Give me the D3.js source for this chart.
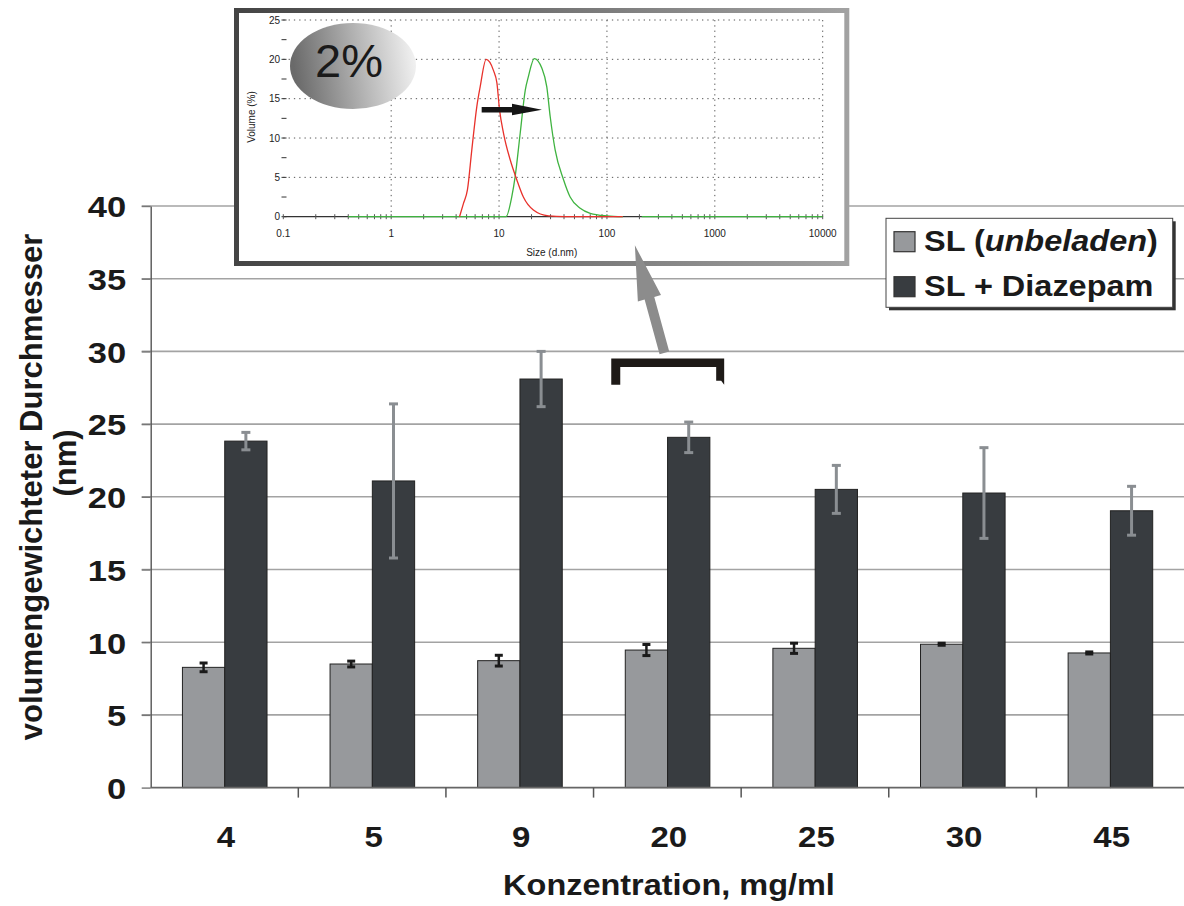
<!DOCTYPE html>
<html><head><meta charset="utf-8">
<script src="https://cdn.jsdelivr.net/npm/d3@7"></script>
<style>body{margin:0;background:#fff}svg{display:block}text{font-family:"Liberation Sans",Arial,sans-serif}</style>
</head><body><svg id="c" width="1184" height="906"></svg>
<script>
// ---------- main chart data ----------
const categories = ["4","5","9","20","25","30","45"];
const seriesNames = ["SL (unbeladen)", "SL + Diazepam"];
const unloaded    = [8.27, 8.50, 8.73, 9.46, 9.58, 9.86, 9.26];
const unloadedErr = [0.30, 0.20, 0.37, 0.38, 0.35, 0.07, 0.07];
const diazepam    = [23.83, 21.09, 28.10, 24.09, 20.51, 20.26, 19.04];
const diazepamErr = [0.60, 5.30, 1.90, 1.05, 1.65, 3.12, 1.68];
const yTicks = [0, 5, 10, 15, 20, 25, 30, 35, 40];
const xTitle = "Konzentration, mg/ml";
const yTitle1 = "volumengewichteter Durchmesser";
const yTitle2 = "(nm)";
const highlightCat = "20";

// ---------- inset data (size distribution, 2%) ----------
const insetLabel = "2%";
const insetXTicks = [0.1, 1, 10, 100, 1000, 10000];
const insetYTicks = [0, 5, 10, 15, 20, 25];
const redSize  = [4.3, 4.68, 5.09, 5.59, 6.22, 6.68, 7.59, 8.87, 9.55, 10.1, 11.0, 12.7, 14.6, 16.8, 20.8, 28.7, 40, 140];
const redVol   = [0, 1.7, 3.4, 8.5, 14.0, 16.5, 20.0, 18.6, 17.0, 13.6, 10.6, 7.2, 4.7, 2.5, 0.85, 0.1, 0, 0];
const greenSize = [0.4, 11.6, 13.1, 14.1, 15.7, 17.5, 18.7, 21.2, 24.9, 27.7, 29.8, 33.1, 39.6, 45.6, 56.5, 70, 100, 141];
const greenVol  = [0, 0, 2.5, 5.1, 10.6, 16.1, 17.8, 20.1, 18.9, 16.5, 12.7, 8.5, 4.7, 2.5, 1.07, 0.43, 0.1, 0];
const greenTailSize = [210, 10000];
const greenTailVol  = [0, 0];
const shiftFrom = [6.9, 13.6], shiftTo = [25, 13.6];

const svg = d3.select("#c");
const defs = svg.append("defs");

// ---------- scales ----------
const x0 = d3.scaleBand().domain(categories).range([150.7, 1184]).padding(0);
const bw = x0.bandwidth();
const x1 = d3.scaleBand().domain(seriesNames).range([0.215 * bw, 0.788 * bw]).padding(0);
const y = d3.scaleLinear().domain([0, 40]).range([787.6, 206]);
const colors = {"SL (unbeladen)": "#97999c", "SL + Diazepam": "#383c40"};
const errColors = {"SL (unbeladen)": "#1a1a1a", "SL + Diazepam": "#8a8e92"};

// gridlines
svg.append("g").selectAll("line").data(yTicks.filter(d => d > 0)).join("line")
  .attr("x1", 141.7).attr("x2", 1184).attr("y1", d => y(d)).attr("y2", d => y(d))
  .attr("stroke", "#a3a3a3").attr("stroke-width", 1.6);

// y axis
const yAxis = svg.append("g").attr("transform", "translate(150.7,0)")
  .call(d3.axisLeft(y).tickValues(yTicks).tickSize(9).tickSizeOuter(0));
yAxis.select(".domain").attr("stroke", "#555").attr("stroke-width", 1.4);
yAxis.selectAll(".tick line").attr("stroke", "#777").attr("stroke-width", 1.4);
yAxis.selectAll(".tick text").attr("x", -24.5 / 1.15).attr("transform", "scale(1.15,1)")
  .attr("dy", "0.36em").style("font-size", "30px").style("font-weight", "bold").attr("fill", "#1a1a1a")
  .attr("font-family", null);

// bars
const rows = categories.map((c, i) => [
  {cat: c, s: seriesNames[0], v: unloaded[i], e: unloadedErr[i]},
  {cat: c, s: seriesNames[1], v: diazepam[i], e: diazepamErr[i]}
]).flat();
svg.append("g").selectAll("rect").data(rows).join("rect")
  .attr("x", d => x0(d.cat) + x1(d.s)).attr("width", x1.bandwidth())
  .attr("y", d => y(d.v)).attr("height", d => y(0) - y(d.v))
  .attr("fill", d => colors[d.s]).attr("stroke", "#222").attr("stroke-width", 1);

// x axis
svg.append("line").attr("x1", 150.7).attr("x2", 1184).attr("y1", y(0)).attr("y2", y(0))
  .attr("stroke", "#666").attr("stroke-width", 1.6);
const bounds = categories.slice(1).map(c => x0(c));
svg.append("g").selectAll("line").data(bounds).join("line")
  .attr("x1", d => d).attr("x2", d => d).attr("y1", y(0)).attr("y2", y(0) + 10)
  .attr("stroke", "#555").attr("stroke-width", 1.5);

// error bars
const eg = svg.append("g");
rows.forEach(d => {
  const cx = x0(d.cat) + x1(d.s) + x1.bandwidth() / 2;
  const col = errColors[d.s];
  const lw = d.s === seriesNames[1] ? 3 : 2.5;
  const cw = d.s === seriesNames[1] ? 4.5 : 4;
  eg.append("line").attr("x1", cx).attr("x2", cx).attr("y1", y(d.v + d.e)).attr("y2", y(d.v - d.e))
    .attr("stroke", col).attr("stroke-width", lw);
  [d.v + d.e, d.v - d.e].forEach(v => eg.append("line").attr("x1", cx - cw).attr("x2", cx + cw)
    .attr("y1", y(v)).attr("y2", y(v)).attr("stroke", col).attr("stroke-width", 3));
});

// category labels
svg.append("g").selectAll("g").data(categories).join("g")
  .attr("transform", d => `translate(${x0(d) + x0.bandwidth() * 0.51},847) scale(1.1,1)`)
  .append("text").attr("text-anchor", "middle").style("font-size", "30px").style("font-weight", "bold")
  .attr("fill", "#1a1a1a").text(d => d);

// axis titles
svg.append("g").attr("transform", "translate(669,895) scale(1.12,1)")
  .append("text").attr("text-anchor", "middle").style("font-size", "29px").style("font-weight", "bold")
  .attr("fill", "#1a1a1a").text(xTitle);
svg.append("text").attr("transform", "translate(42,487) rotate(-90)").attr("text-anchor", "middle")
  .style("font-size", "31px").style("font-weight", "bold").attr("fill", "#1a1a1a").text(yTitle1);
svg.append("text").attr("transform", "translate(76,463) rotate(-90)").attr("text-anchor", "middle")
  .style("font-size", "31px").style("font-weight", "bold").attr("fill", "#1a1a1a").text(yTitle2);

// legend
const lg = svg.append("g");
lg.append("rect").attr("x", 889).attr("y", 221.3).attr("width", 286.7).attr("height", 89).attr("fill", "#333");
lg.append("rect").attr("x", 886).attr("y", 218.3).attr("width", 286.7).attr("height", 89)
  .attr("fill", "#fff").attr("stroke", "#444").attr("stroke-width", 1);
seriesNames.forEach((s, i) => {
  const yy = 231.7 + i * 45;
  lg.append("rect").attr("x", 894).attr("y", yy).attr("width", 21).attr("height", 20)
    .attr("fill", colors[s]).attr("stroke", "#333").attr("stroke-width", 1.2);
  const t = lg.append("g").attr("transform", `translate(924,${yy + 19}) scale(1.12,1)`)
    .append("text").style("font-size", "29px").style("font-weight", "bold").attr("fill", "#1a1a1a");
  if (i === 0) {
    t.append("tspan").text("SL (");
    t.append("tspan").style("font-style", "italic").text("unbeladen");
    t.append("tspan").text(")");
  } else t.text(s);
});

// highlight bracket for category 20
const bx0 = x0(highlightCat) + bw * 0.12, bx1 = x0(highlightCat) + bw * 0.885;
const bt = y(29.52), bb = y(27.7);
svg.append("path").attr("fill", "#1e1a17")
  .attr("d", `M${bx0},${bt} L${bx1},${bt} L${bx1},${bb} L${bx1 - 3},${bb - 4} L${bx1 - 8},${bb - 4} L${bx1 - 8},${bt + 8.5} L${bx0 + 9},${bt + 8.5} L${bx0 + 9},${bb} L${bx0},${bb} Z`);

// ---------- inset ----------
const ig = svg.append("g");
const fg = defs.append("linearGradient").attr("id", "frameG").attr("gradientUnits", "userSpaceOnUse")
  .attr("x1", 234).attr("x2", 849).attr("y1", 0).attr("y2", 0);
fg.append("stop").attr("offset", "0%").attr("stop-color", "#444");
fg.append("stop").attr("offset", "100%").attr("stop-color", "#a2a2a2");
ig.append("rect").attr("x", 236.5).attr("y", 10.5).attr("width", 610.3).attr("height", 253)
  .attr("fill", "#fff").attr("stroke", "url(#frameG)").attr("stroke-width", 5);

const xi = d3.scaleLog().domain([0.1, 10000]).range([283.3, 822.7]);
const yi = d3.scaleLinear().domain([0, 25]).range([216.7, 20]);

// dotted grid
ig.append("g").selectAll("line").data(insetYTicks.filter(d => d > 0)).join("line")
  .attr("x1", xi(0.1)).attr("x2", xi(10000)).attr("y1", d => yi(d)).attr("y2", d => yi(d))
  .attr("stroke", "#555").attr("stroke-width", 1).attr("stroke-dasharray", "1.3,4");
ig.append("g").selectAll("line").data(insetXTicks.slice(1)).join("line")
  .attr("x1", d => xi(d)).attr("x2", d => xi(d)).attr("y1", yi(25)).attr("y2", yi(0))
  .attr("stroke", "#555").attr("stroke-width", 1).attr("stroke-dasharray", "1.3,4");

// ellipse label
const eg2 = defs.append("linearGradient").attr("id", "ellG").attr("x1", 0).attr("x2", 1).attr("y1", 0.2).attr("y2", 0.1);
eg2.append("stop").attr("offset", "0%").attr("stop-color", "#6a6a6a");
eg2.append("stop").attr("offset", "55%").attr("stop-color", "#b8b8b8");
eg2.append("stop").attr("offset", "100%").attr("stop-color", "#f6f6f6");
ig.append("ellipse").attr("cx", 353).attr("cy", 66).attr("rx", 63).attr("ry", 43).attr("fill", "url(#ellG)");
ig.append("text").attr("x", 349).attr("y", 77).attr("text-anchor", "middle")
  .style("font-size", "47px").attr("fill", "#1a1a1a").text(insetLabel);

// y minor ticks
ig.append("g").selectAll("line").data(d3.range(0, 25.01, 2.5)).join("line")
  .attr("x1", 281.5).attr("x2", 286.5).attr("y1", d => yi(d)).attr("y2", d => yi(d))
  .attr("stroke", "#333").attr("stroke-width", 1);
// x axis line + ticks
ig.append("line").attr("x1", xi(0.1)).attr("x2", xi(10000)).attr("y1", yi(0)).attr("y2", yi(0))
  .attr("stroke", "#333").attr("stroke-width", 1.2);
const minor = [];
[0.1, 1, 10, 100, 1000].forEach(b => { for (let k = 2; k <= 9; k++) minor.push(b * k); });
ig.append("g").selectAll("line").data(minor.concat(insetXTicks)).join("line")
  .attr("x1", d => xi(d)).attr("x2", d => xi(d)).attr("y1", yi(0) - 2.5).attr("y2", yi(0) + 2.5)
  .attr("stroke", "#555").attr("stroke-width", 1);

// tick labels
ig.append("g").selectAll("text").data(insetYTicks).join("text")
  .attr("x", 280).attr("y", d => yi(d)).attr("dy", "0.35em").attr("text-anchor", "end")
  .style("font-size", "10px").attr("fill", "#222").text(d => d);
ig.append("g").selectAll("text").data(insetXTicks).join("text")
  .attr("x", d => xi(d)).attr("y", 237).attr("text-anchor", "middle")
  .style("font-size", "10px").attr("fill", "#222").text(d => d);
ig.append("text").attr("x", 551.7).attr("y", 256).attr("text-anchor", "middle")
  .style("font-size", "10px").attr("fill", "#222").text("Size (d.nm)");
ig.append("text").attr("transform", "translate(255,117) rotate(-90)").attr("text-anchor", "middle")
  .style("font-size", "10px").attr("fill", "#222").text("Volume (%)");

// curves
const line = d3.line().x(d => xi(d[0])).y(d => yi(d[1])).curve(d3.curveMonotoneX);
ig.append("path").datum(greenTailSize.map((s, i) => [s, greenTailVol[i]])).attr("d", line)
  .attr("fill", "none").attr("stroke", "#3fb340").attr("stroke-width", 1.3);
ig.append("path").datum(greenSize.map((s, i) => [s, greenVol[i]])).attr("d", line)
  .attr("fill", "none").attr("stroke", "#3fb340").attr("stroke-width", 1.3);
ig.append("path").datum(redSize.map((s, i) => [s, redVol[i]])).attr("d", line)
  .attr("fill", "none").attr("stroke", "#e8312b").attr("stroke-width", 1.3);

// shift arrow in inset
const ax0 = xi(shiftFrom[0]), ax1 = xi(shiftTo[0]), ay = yi(shiftFrom[1]);
ig.append("path").attr("fill", "#151515")
  .attr("d", `M${ax0},${ay - 2.8} L${ax1 - 30},${ay - 2.8} L${ax1 - 30},${ay - 6} L${ax1},${ay} L${ax1 - 30},${ay + 5.5} L${ax1 - 30},${ay + 2.8} L${ax0},${ay + 2.8} Z`);

// gray arrow from bracket to inset
const tail = [x0(highlightCat) + bw * 0.48, y(29.9)], tip = [x0(highlightCat) + bw * 0.28, y(37.3)];
const dx = tip[0] - tail[0], dy = tip[1] - tail[1], L = Math.hypot(dx, dy);
const ux = dx / L, uy = dy / L, px = -uy, py = ux;
const hl = 55, sw = 5, hw = 12;
const hb = [tip[0] - ux * hl, tip[1] - uy * hl];
const pts = [
  [tail[0] + px * sw, tail[1] + py * sw], [hb[0] + px * sw, hb[1] + py * sw], [hb[0] + px * hw, hb[1] + py * hw],
  tip, [hb[0] - px * hw, hb[1] - py * hw], [hb[0] - px * sw, hb[1] - py * sw], [tail[0] - px * sw, tail[1] - py * sw]
];
svg.append("path").attr("fill", "#8c8c8c").attr("d", "M" + pts.map(p => p.join(",")).join("L") + "Z");
</script></body></html>
